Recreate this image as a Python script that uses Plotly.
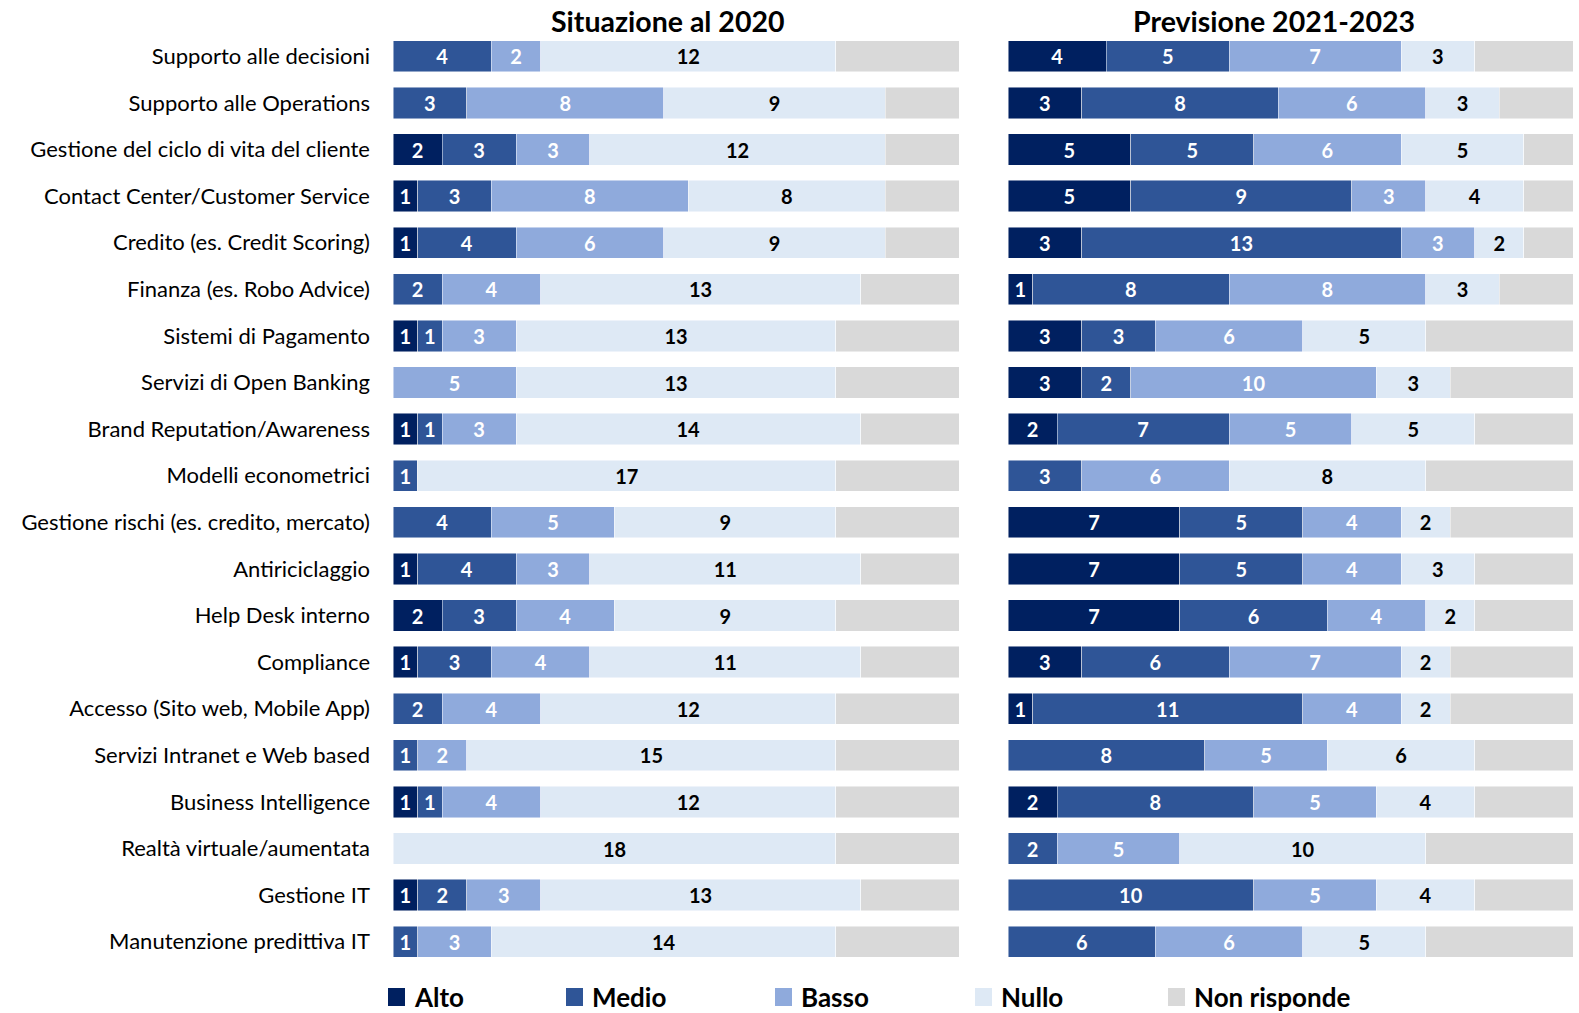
import plotly.graph_objects as go

categories = [
    "Supporto alle decisioni", "Supporto alle Operations", "Gestione del ciclo di vita del cliente",
    "Contact Center/Customer Service", "Credito (es. Credit Scoring)", "Finanza (es. Robo Advice)",
    "Sistemi di Pagamento", "Servizi di Open Banking", "Brand Reputation/Awareness",
    "Modelli econometrici", "Gestione rischi (es. credito, mercato)", "Antiriciclaggio",
    "Help Desk interno", "Compliance", "Accesso (Sito web, Mobile App)",
    "Servizi Intranet e Web based", "Business Intelligence", "Realtà virtuale/aumentata",
    "Gestione IT", "Manutenzione predittiva IT",
]

series_names = ["Alto", "Medio", "Basso", "Nullo", "Non risponde"]

# Situazione al 2020
alto_2020 = [0, 0, 2, 1, 1, 0, 1, 0, 1, 0, 0, 1, 2, 1, 0, 0, 1, 0, 1, 0]
medio_2020 = [4, 3, 3, 3, 4, 2, 1, 0, 1, 1, 4, 4, 3, 3, 2, 1, 1, 0, 2, 1]
basso_2020 = [2, 8, 3, 8, 6, 4, 3, 5, 3, 0, 5, 3, 4, 4, 4, 2, 4, 0, 3, 3]
nullo_2020 = [12, 9, 12, 8, 9, 13, 13, 13, 14, 17, 9, 11, 9, 11, 12, 15, 12, 18, 13, 14]
nr_2020 = [5, 3, 3, 3, 3, 4, 5, 5, 4, 5, 5, 4, 5, 4, 5, 5, 5, 5, 4, 5]

# Previsione 2021-2023
alto_prev = [4, 3, 5, 5, 3, 1, 3, 3, 2, 0, 7, 7, 7, 3, 1, 0, 2, 0, 0, 0]
medio_prev = [5, 8, 5, 9, 13, 8, 3, 2, 7, 3, 5, 5, 6, 6, 11, 8, 8, 2, 10, 6]
basso_prev = [7, 6, 6, 3, 3, 8, 6, 10, 5, 6, 4, 4, 4, 7, 4, 5, 5, 5, 5, 6]
nullo_prev = [3, 3, 5, 4, 2, 3, 5, 3, 5, 8, 2, 3, 2, 2, 2, 6, 4, 10, 4, 5]
nr_prev = [4, 3, 2, 2, 2, 3, 6, 5, 4, 6, 5, 4, 4, 5, 5, 4, 4, 6, 4, 6]

colors = ["#002060", "#2F5597", "#8FAADC", "#DEE9F5", "#D9D9D9"]
text_colors = ["white", "white", "white", "black", "black"]

W, H = 1579, 1013
FONT = "Lato"


def px(x):
    return x / W


def py(y):
    return (H - y) / H


fig = go.Figure()

panels = [
    ([alto_2020, medio_2020, basso_2020, nullo_2020, nr_2020], "x", "y"),
    ([alto_prev, medio_prev, basso_prev, nullo_prev, nr_prev], "x2", "y2"),
]
for data, xa, ya in panels:
    for i, (name, vals) in enumerate(zip(series_names, data)):
        show_text = i < 4
        fig.add_trace(go.Bar(
            y=categories, x=vals, orientation="h", name=name,
            xaxis=xa, yaxis=ya, showlegend=False,
            marker=dict(color=colors[i], line=dict(color="rgba(255,255,255,0.6)", width=0.8)),
            text=[str(v) if (v > 0 and show_text) else "" for v in vals],
            textposition="inside", insidetextanchor="middle", textangle=0,
            textfont=dict(family=FONT, size=20, color=text_colors[i], weight="bold"),
            hoverinfo="skip",
        ))

y_dom = [py(965), py(33)]
fig.update_layout(
    width=W, height=H,
    margin=dict(l=0, r=0, t=0, b=0, autoexpand=False),
    barmode="stack", bargap=0.33,
    plot_bgcolor="white", paper_bgcolor="white",
    uniformtext=dict(minsize=20, mode="show"),
    xaxis=dict(domain=[px(393), px(959)], range=[0, 23], visible=False, fixedrange=True, automargin=False),
    xaxis2=dict(domain=[px(1008), px(1573)], range=[0, 23], visible=False, fixedrange=True, automargin=False),
    yaxis=dict(domain=y_dom, autorange="reversed", anchor="x", showgrid=False, showline=False,
               ticks="", ticklabelstandoff=22, automargin=False,
               tickfont=dict(family=FONT, size=22, color="black")),
    yaxis2=dict(domain=y_dom, autorange="reversed", anchor="x2", showgrid=False, showline=False,
                showticklabels=False, ticks="", automargin=False),
)

fig.add_annotation(x=px(667), y=py(21), xref="paper", yref="paper", text="<b>Situazione al 2020</b>",
                   showarrow=False, font=dict(family=FONT, size=28.5, color="black"), xanchor="center", yanchor="middle")
fig.add_annotation(x=px(1274), y=py(21), xref="paper", yref="paper", text="<b>Previsione 2021-2023</b>",
                   showarrow=False, font=dict(family=FONT, size=28.5, color="black"), xanchor="center", yanchor="middle")

# Legend (manual)
legend_x = [388, 566, 775, 975, 1168]
ly = 997
for name, col, lx in zip(series_names, colors, legend_x):
    fig.add_shape(type="rect", xref="paper", yref="paper",
                  x0=px(lx), x1=px(lx + 17), y0=py(ly + 9), y1=py(ly - 9),
                  fillcolor=col, line=dict(width=0))
    fig.add_annotation(x=px(lx + 24), y=py(ly), xref="paper", yref="paper",
                       text="<b>" + name + "</b>", showarrow=False, xanchor="left", yanchor="middle",
                       font=dict(family=FONT, size=26, color="black"))

fig.write_html("out.html", config={"displayModeBar": False},
               post_script="document.body.style.margin='0';document.body.style.overflow='hidden';")
